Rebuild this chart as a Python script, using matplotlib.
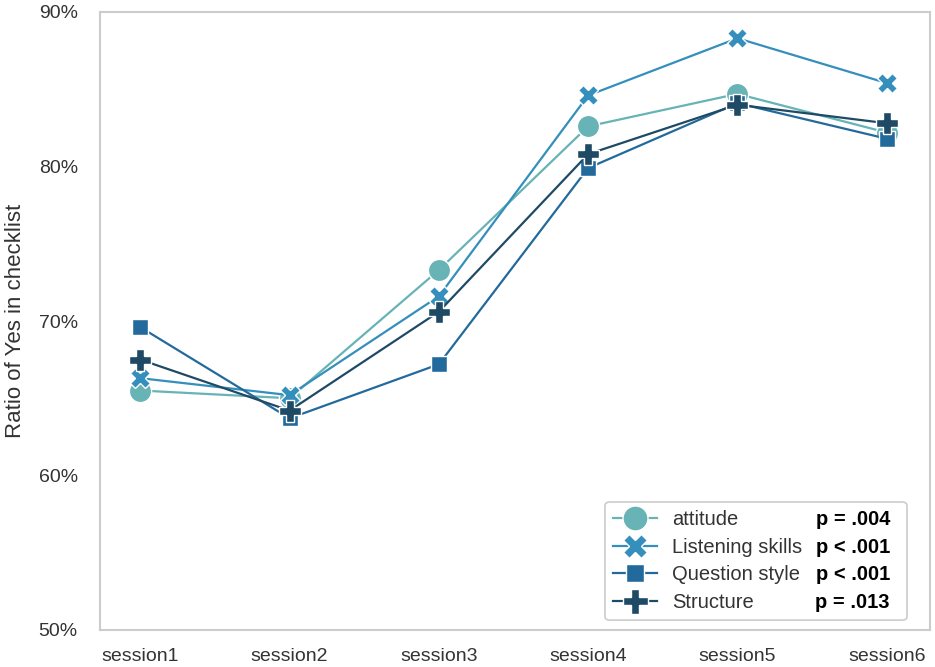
import matplotlib
matplotlib.use("Agg")
import matplotlib.pyplot as plt
from matplotlib.ticker import FuncFormatter
from matplotlib.lines import Line2D
from matplotlib.patches import FancyBboxPatch

sessions = ["session1", "session2", "session3", "session4", "session5", "session6"]
attitude = [65.5, 65.0, 73.3, 82.6, 84.7, 82.2]
listening = [66.3, 65.2, 71.6, 84.6, 88.3, 85.4]
question = [69.6, 63.7, 67.2, 79.9, 84.1, 81.8]
structure = [67.5, 64.2, 70.6, 80.8, 84.0, 82.8]

series_names = ["attitude", "Listening skills", "Question style", "Structure"]
series_vals = [attitude, listening, question, structure]
p_values = ["p = .004", "p < .001", "p < .001", "p = .013"]
colors = ["#67b3b5", "#348fbd", "#236a9c", "#1f4a66"]
markers = ["o", "X", "s", "P"]
msizes = [16, 15, 11, 16]

plt.rcParams['font.family'] = ['Liberation Sans', 'DejaVu Sans']

fig = plt.figure(figsize=(9.35, 6.67), dpi=100)
ax = fig.add_axes([100/935, 37/667, 830/935, 618/667])

x = list(range(len(sessions)))
handles = []
for name, vals, c, m, ms in zip(series_names, series_vals, colors, markers, msizes):
    ax.plot(x, vals, color=c, marker=m, markersize=ms, markeredgecolor="white",
            markeredgewidth=1.0, linewidth=1.6, label=name)
    handles.append(Line2D([0], [0], color=c, marker=m, markersize=ms + 2,
                          markeredgecolor="white", markeredgewidth=1.0, linewidth=1.6))

ax.set_xlim(-0.27, 5.29)
ax.set_ylim(50, 90)
ax.set_xticks(x)
ax.set_xticklabels(sessions, fontsize=14, color="#333333")
ax.set_yticks([50, 60, 70, 80, 90])
ax.yaxis.set_major_formatter(FuncFormatter(lambda v, p: f"{v:.0f}%"))
ax.tick_params(axis="y", labelsize=14, labelcolor="#333333", length=0, pad=16)
ax.tick_params(axis="x", length=0, pad=13)
ax.set_ylabel("Ratio of Yes in checklist", fontsize=16, color="#333333", labelpad=9)
for s in ax.spines.values():
    s.set_color("#cccccc")
    s.set_linewidth(1.5)

leg = ax.legend(handles, series_names, loc="lower left", fontsize=14.5,
                bbox_to_anchor=(0.6084, 0.016), borderaxespad=0, frameon=False,
                handlelength=2.2, borderpad=0.4, labelspacing=0.43, handletextpad=0.75)
for t in leg.get_texts():
    t.set_color("#333333")

fig.canvas.draw()
inv = ax.transAxes.inverted()
for t, pv in zip(leg.get_texts(), p_values):
    bb = t.get_window_extent()
    yc = (bb.y0 + bb.y1) / 2
    _, ya = inv.transform((0, yc))
    ax.text(0.9518, ya, pv, transform=ax.transAxes, fontsize=14.5, fontweight="bold",
            ha="right", va="center", color="black", zorder=7)

lb = leg.get_window_extent()
(lx0, ly0) = inv.transform((lb.x0, lb.y0))
(lx1, ly1) = inv.transform((lb.x1, lb.y1))
frame = FancyBboxPatch((lx0, ly0), 0.9723 - lx0, ly1 - ly0,
                       boxstyle="round,pad=0,rounding_size=0.006",
                       transform=ax.transAxes, facecolor="white", edgecolor="#cccccc",
                       linewidth=1.2, zorder=4.5)
ax.add_patch(frame)
leg.set_zorder(6)

fig.savefig("out.png", dpi=100)
